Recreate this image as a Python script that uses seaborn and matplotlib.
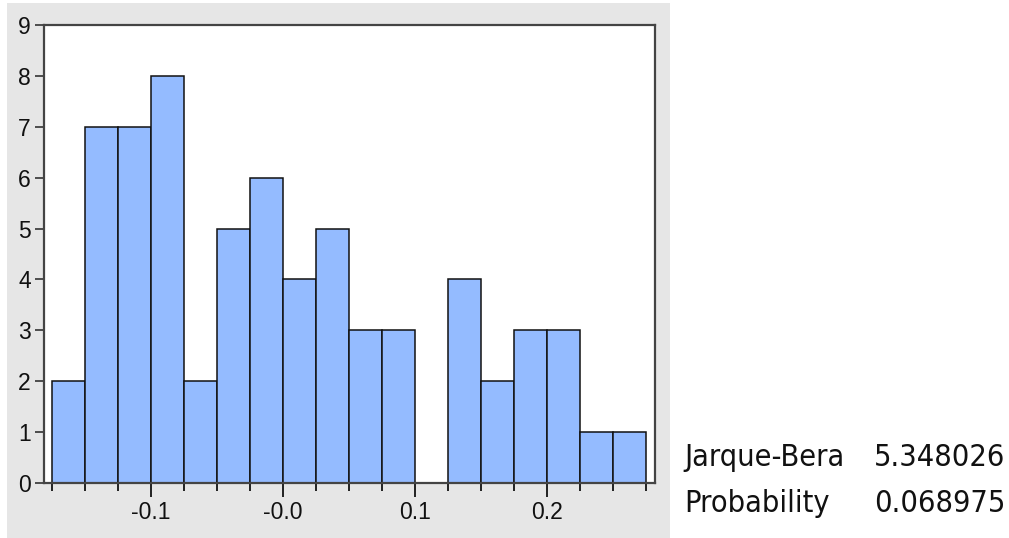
import matplotlib
matplotlib.use("Agg")
import matplotlib.pyplot as plt
import seaborn as sns
from matplotlib.patches import Rectangle
from matplotlib.ticker import FixedLocator

# Histogram of residuals (bin edges and counts)
bin_left = [-0.175, -0.150, -0.125, -0.100, -0.075, -0.050, -0.025, 0.000, 0.025,
            0.050, 0.075, 0.100, 0.125, 0.150, 0.175, 0.200, 0.225, 0.250]
bin_right_end = 0.275
counts = [2, 7, 7, 8, 2, 5, 6, 4, 5, 3, 3, 0, 4, 2, 3, 3, 1, 1]

major_ticks = [-0.1, 0.0, 0.1, 0.2]
major_labels = ["-0.1", "-0.0", "0.1", "0.2"]
y_ticks = [0, 1, 2, 3, 4, 5, 6, 7, 8, 9]

stat_names = ["Jarque-Bera", "Probability"]
stat_values = ["5.348026", "0.068975"]

bin_edges = bin_left + [bin_right_end]
bin_centers = [b + 0.0125 for b in bin_left]

sns.set_style("white")
plt.rcParams["font.family"] = ["Liberation Sans", "DejaVu Sans"]

W, H = 1009, 538
fig = plt.figure(figsize=(W / 100, H / 100), dpi=100)
fig.patch.set_facecolor("white")

# grey panel behind the chart
fig.patches.append(Rectangle((7 / W, 0), (670 - 7) / W, 535 / H,
                             transform=fig.transFigure, facecolor="#e6e6e6",
                             edgecolor="none", zorder=-10))

ax = fig.add_axes([44 / W, (H - 483) / H, (655 - 44) / W, (483 - 25) / H])
ax.set_zorder(5)
ax.set_facecolor("white")

sns.histplot(x=bin_centers, weights=counts, bins=bin_edges, ax=ax,
             color="#94bbff", alpha=1, edgecolor="#111111", linewidth=1.1)

ax.set_xlim(-0.1811, 0.2818)
ax.set_ylim(0, 9)
ax.set_xlabel("")
ax.set_ylabel("")

ax.xaxis.set_major_locator(FixedLocator(major_ticks))
ax.set_xticklabels(major_labels)
ax.xaxis.set_minor_locator(FixedLocator(bin_edges))
ax.set_yticks(y_ticks)

ax.tick_params(axis="x", which="major", direction="out", length=10, width=1.2,
               color="black", labelsize=16.5, labelcolor="#111111", pad=3, bottom=True)
ax.tick_params(axis="x", which="minor", direction="out", length=6, width=1.2,
               color="black", bottom=True)
ax.tick_params(axis="y", direction="out", length=6.5, width=1.2, color="#333333",
               labelsize=16.5, labelcolor="#111111", pad=3, left=True)

for side in ["top", "right", "left", "bottom"]:
    ax.spines[side].set_visible(True)
    ax.spines[side].set_color("#444444")
    ax.spines[side].set_linewidth(1.6)

# statistics text on the right
for i, (name, val) in enumerate(zip(stat_names, stat_values)):
    y = 1 - (458 + i * 45) / H
    fig.text(684 / W, y, name, fontsize=22, va="center", ha="left",
             family="DejaVu Sans", stretch="condensed", color="#111111")
    fig.text(1005 / W, y, val, fontsize=22, va="center", ha="right",
             family="DejaVu Sans", stretch="condensed", color="#111111")

fig.savefig("out.png", dpi=100)
